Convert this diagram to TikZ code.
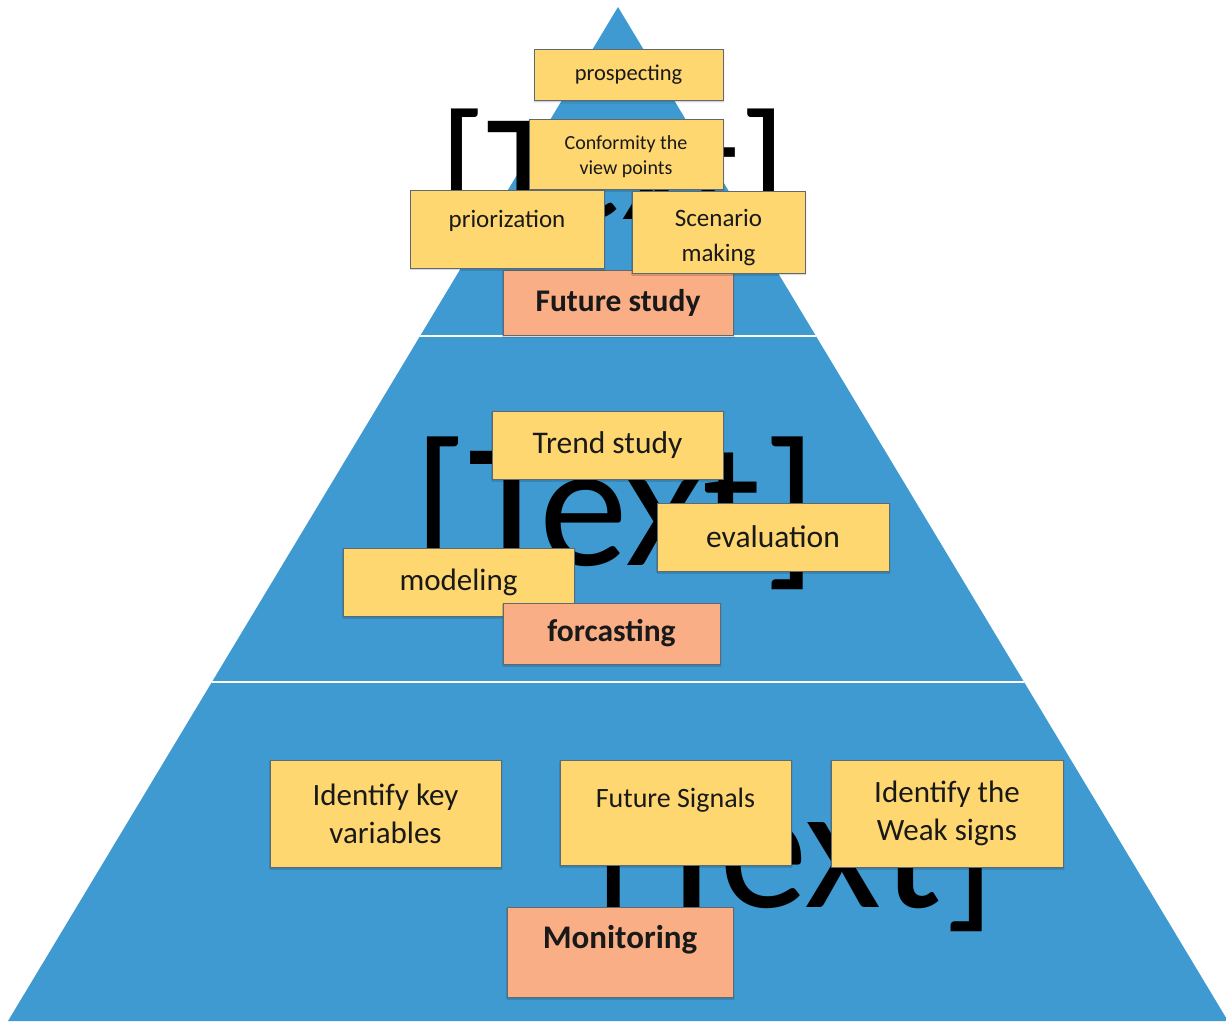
\documentclass[tikz,border=0pt]{standalone}
\usepackage{fontspec}
\setmainfont{Carlito}
\usetikzlibrary{positioning, shadows.blur}

\definecolor{pyrblue}{RGB}{62,154,209}
\definecolor{noteyellow}{RGB}{255,215,112}
\definecolor{notesalmon}{RGB}{249,174,134}
\definecolor{noteedge}{RGB}{96,106,110}

\begin{document}
\begin{tikzpicture}[
		x=1pt, y=-1pt,
		% Style for the yellow sticky notes
		note/.style={
			draw=noteedge, line width=0.9pt, fill=noteyellow, align=center,
			inner sep=2pt, text=black!90,
			blur shadow={shadow blur steps=3, shadow xshift=0.6pt, shadow yshift=-1.4pt,
				shadow opacity=25, shadow blur radius=1.2pt}
		},
		% Style for the level titles
		level/.style={note, fill=notesalmon},
		% Style for the big placeholder text
		placeholder/.style={anchor=base, inner sep=0pt, text=black}
		]
		
		% Font size helper
		\newcommand{\notesize}[2]{\fontsize{#1}{#2}\selectfont}
		
		\useasboundingbox (0,0) rectangle (1226,1023);
		
		% ==========================================
		% 0. THE PYRAMID
		% ==========================================
		\coordinate (apex) at (618,7);
		\coordinate (baseL) at (8,1021);
		\coordinate (baseR) at (1228,1021);
		\fill[pyrblue] (apex) -- (baseR) -- (baseL) -- cycle;
		
		% white cuts between the levels
		\begin{scope}
			\clip (apex) -- (baseR) -- (baseL) -- cycle;
			\draw[white, line width=2.5pt] (0,336) -- (1226,336);
			\draw[white, line width=2.5pt] (0,682) -- (1226,682);
		\end{scope}
		
		% placeholders left in each level
		\node[placeholder, font=\notesize{153}{153}] (phtop) at (613,219) {[Text]};
		\node[placeholder, font=\notesize{178}{178}] (phmid) at (615.5,565) {[Text]};
		\node[placeholder, font=\notesize{178}{178}] (phbot) at (795,907) {[Text]};
		
		% ==========================================
		% 1. THE TOP: Future study
		% ==========================================
		\node[level, minimum width=230pt, minimum height=65pt, font=\notesize{31.5}{38}\bfseries] (futstudy) at (618,302.5) {Future study};
		\node[note, minimum width=189pt, minimum height=51pt, font=\notesize{22.5}{27}] (prosp) at (628.5,75) {prospecting};
		\node[note, minimum width=194pt, minimum height=70pt, text height=45pt, font=\notesize{20}{25}] (conform) at (626,154) {Conformity the\\view points};
		\node[note, minimum width=194pt, minimum height=78pt, text depth=21pt, font=\notesize{25}{31}] (prior) at (507,229) {priorization};
		\node[note, minimum width=173pt, minimum height=82pt, text height=63pt, font=\notesize{25}{35}] (scenario) at (718.5,232) {Scenario\\making};
		
		% ==========================================
		% 2. THE MIDDLE: forcasting
		% ==========================================
		\node[note, minimum width=231pt, minimum height=68pt, font=\notesize{31.5}{38}] (trend) at (607.5,445) {Trend study};
		\node[note, minimum width=232pt, minimum height=68pt, font=\notesize{31.5}{38}] (evaluation) at (773,537) {evaluation};
		\node[note, minimum width=231pt, minimum height=68pt, font=\notesize{31}{38}] (modeling) at (458.5,582) {modeling};
		\node[level, minimum width=217pt, minimum height=61pt, font=\notesize{31.5}{38}\bfseries] (forcast) at (611.5,633.5) {forcasting};
		
		% ==========================================
		% 3. THE BOTTOM: Monitoring
		% ==========================================
		\node[note, minimum width=231pt, minimum height=107pt, font=\notesize{31}{38}] (keyvars) at (385.5,813.5) {Identify key\\variables};
		\node[note, minimum width=231pt, minimum height=105pt, text depth=30pt, font=\notesize{28}{34}] (signals) at (675.5,812.5) {Future Signals};
		\node[note, minimum width=232pt, minimum height=107pt, font=\notesize{31}{38}] (weak) at (947,813.5) {Identify the\\Weak signs};
		\node[level, minimum width=226pt, minimum height=90pt, text depth=30pt, font=\notesize{33}{40}\bfseries] (monitor) at (620,952) {Monitoring};
		
	\end{tikzpicture}
\end{document}
